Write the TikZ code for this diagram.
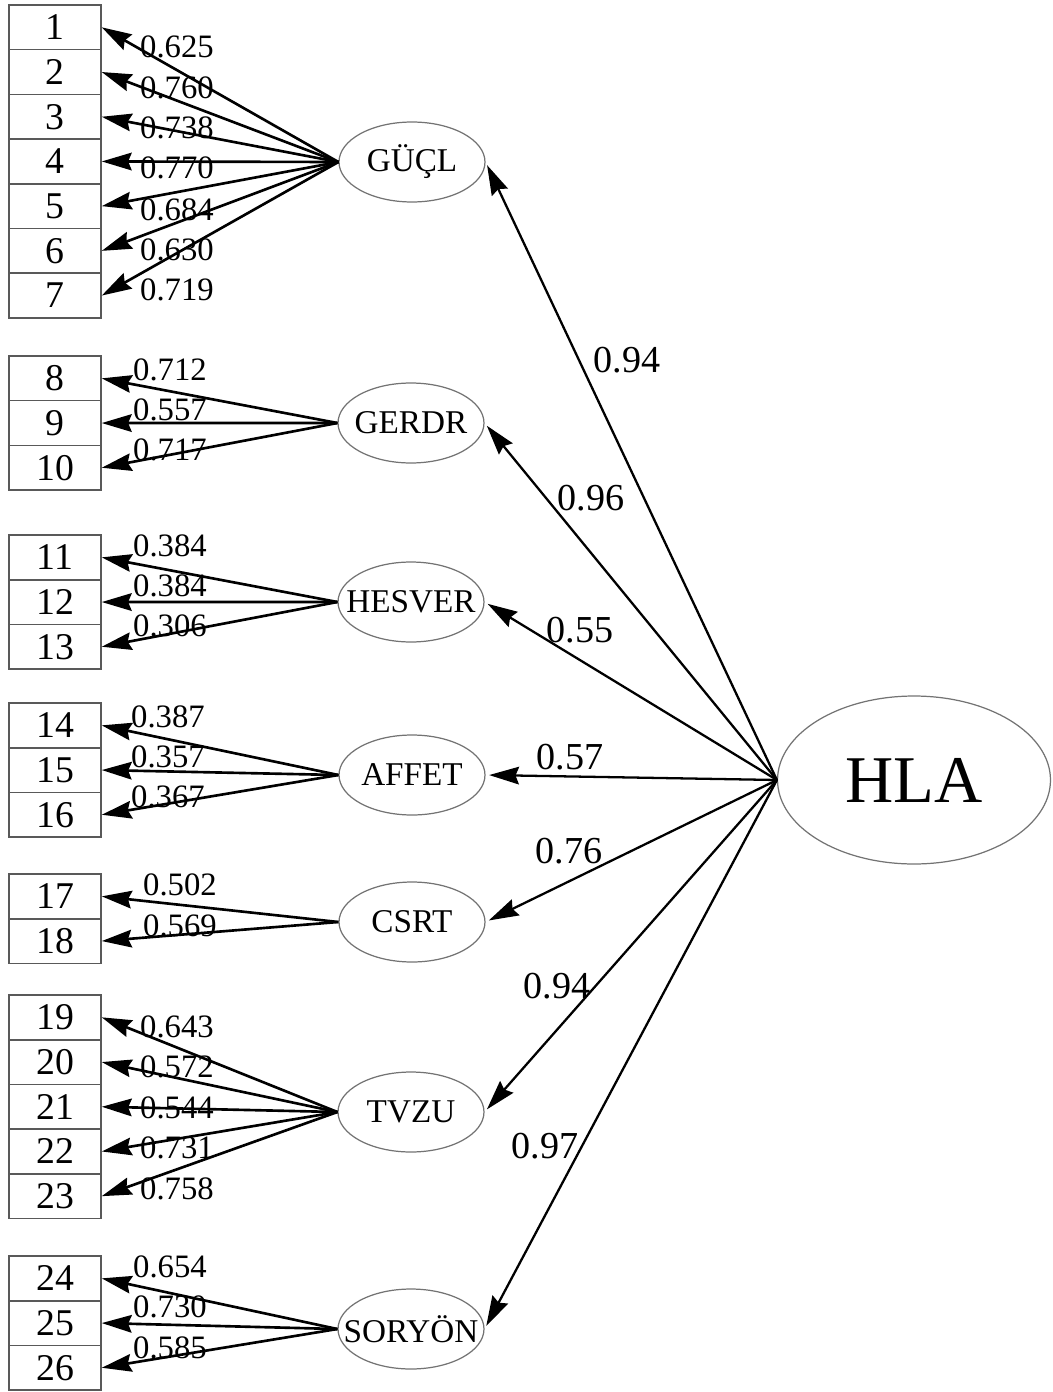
\documentclass[tikz,border=0pt]{standalone}
\usepackage{fontspec}
\setmainfont{Liberation Serif}
\usetikzlibrary{positioning,arrows.meta,shapes.geometric}
\tikzset{
    item/.style={rectangle, draw=black!65, line width=0.9pt, minimum width=1.84cm, minimum height=0.894cm, inner sep=0pt, font=\fontsize{21.5}{21.5}\selectfont},
    factor/.style={ellipse, draw=black!55, line width=0.7pt, minimum width=2.92cm, minimum height=1.6cm, inner xsep=-1cm, inner ysep=0pt, font=\fontsize{18.9}{18.9}\selectfont},
    general factor/.style={factor, minimum width=5.46cm, minimum height=3.36cm, font=\fontsize{38}{38}\selectfont},
    loading/.style={-{Stealth[length=17pt, width=10pt, inset=2pt]}, line width=1.5pt},
    path coef/.style={loading, line width=1.3pt, shorten >=2pt},
    loading label/.style={font=\fontsize{18.6}{18.6}\selectfont, inner sep=0pt},
    coef label/.style={font=\fontsize{21.7}{21.7}\selectfont, inner sep=0pt}
}

\begin{document}
\begin{tikzpicture}[x=0.02cm, y=-0.02cm]
    \useasboundingbox (0,0) rectangle (1053,1392);

    % Item boxes, stacked per factor
    \foreach \first/\last/\top in {1/7/5, 8/10/356, 11/13/535, 14/16/703, 17/18/874, 19/23/995, 24/26/1256} {
        \foreach \n in {\first,...,\last} {
            \node[item] (b\n) at (55, {\top + (\n - \first + 0.5)*44.7}) {\n};
        }
    }

    % First-order factors
    \node[factor] (gucl) at (412,162) {GÜÇL};
    \node[factor] (gerdr) at (411,423) {GERDR};
    \node[factor] (hesver) at (411,602) {HESVER};
    \node[factor] (affet) at (412,775) {AFFET};
    \node[factor] (csrt) at (412,922) {CSRT};
    \node[factor] (tvzu) at (411,1112) {TVZU};
    \node[factor] (soryon) at (411,1329) {SORYÖN};

    % Second-order factor
    \node[general factor] (hla) at (914,780) {HLA};

    % Factor loadings
    \foreach \f/\n/\lx/\ly/\v in {
        gucl/1/177/47/0.625, gucl/2/177/88/0.760, gucl/3/177/128/0.738, gucl/4/177/168/0.770,
        gucl/5/177/210/0.684, gucl/6/177/250/0.630, gucl/7/177/290/0.719,
        gerdr/8/170/370/0.712, gerdr/9/170/410/0.557, gerdr/10/170/450/0.717,
        hesver/11/170/546/0.384, hesver/12/170/586/0.384, hesver/13/170/626/0.306,
        affet/14/168/717/0.387, affet/15/168/757/0.357, affet/16/168/797/0.367,
        csrt/17/180/885/0.502, csrt/18/180/926/0.569,
        tvzu/19/177/1027/0.643, tvzu/20/177/1067/0.572, tvzu/21/177/1108/0.544,
        tvzu/22/177/1148/0.731, tvzu/23/177/1189/0.758,
        soryon/24/170/1267/0.654, soryon/25/170/1307/0.730, soryon/26/170/1348/0.585} {
        \draw[loading] (\f.west) -- (b\n.east);
        \node[loading label] (l\n) at (\lx,\ly) {\v};
    }

    % Second-order paths
    \foreach \f/\lx/\ly/\v in {gucl/627/360/0.94, gerdr/591/498/0.96, hesver/580/630/0.55,
        affet/570/757/0.57, csrt/569/851/0.76, tvzu/557/986/0.94, soryon/545/1146/0.97} {
        \draw[path coef] (hla.west) -- (\f.east);
        \node[coef label] (c\f) at (\lx,\ly) {\v};
    }
\end{tikzpicture}
\end{document}
